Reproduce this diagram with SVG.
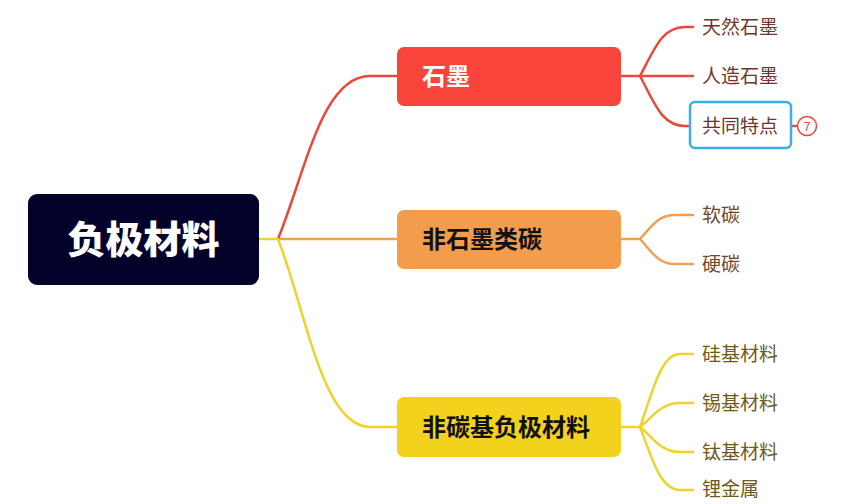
<svg xmlns="http://www.w3.org/2000/svg" width="865" height="504" viewBox="0 0 865 504">
<style>
.c{fill:none;stroke-width:2.5;stroke-linecap:round}
.r{stroke:#e8493b}.o{stroke:#f0a050}.y{stroke:#f0d22a}
.main{font-family:"Noto Sans CJK SC","Noto Sans",sans-serif;font-weight:bold;font-size:24px}
.leaf{font-family:"Noto Sans CJK SC","Noto Sans",sans-serif;font-size:19px}
</style>
<rect width="865" height="504" fill="#ffffff"/>
<g id="connectors">
<path class="c y" d="M259,239 L278,239"/>
<path class="c o" d="M278,239 L397,239"/>
<path class="c r" d="M278,239 C306,170 322,76 370,76 L397,76"/>
<path class="c y" d="M278,239 C306,310 322,427 370,427 L397,427"/>
<path class="c r" d="M621,76 L640,76 M640,76 C655,48 662,27 685,27 L693,27 M640,76 L693,76 M640,76 C655,104 662,126 685,126 L689,126"/>
<path class="c r" d="M791,126 L797,126"/>
<path class="c o" d="M621,239 L640,239 M640,239 C652,226 658,215 675,215 L693,215 M640,239 C652,252 658,264 675,264 L693,264"/>
<path class="c y" d="M621,427 L640,427 M640,427 C652,395 660,354 680,354 L693,354 M640,427 C652,418 660,403 680,403 L693,403 M640,427 C652,436 660,452 680,452 L693,452 M640,427 C652,458 660,490 680,490 L693,490"/>
</g>
<g id="root">
<rect x="28" y="194" width="231" height="91" rx="9" fill="#03022a"/>
<text x="143.5" y="253" text-anchor="middle" fill="#ffffff" font-family="'Noto Sans CJK SC','Noto Sans',sans-serif" font-weight="900" font-size="38">负极材料</text>
</g>
<g id="graphite">
<rect x="397" y="47" width="224" height="59" rx="7" fill="#f8443b"/>
<text class="main" x="422" y="85" fill="#ffffff">石墨</text>
</g>
<g id="nongraphite">
<rect x="397" y="210" width="224" height="59" rx="7" fill="#f39d4c"/>
<text class="main" x="422" y="248" fill="#111111">非石墨类碳</text>
</g>
<g id="noncarbon">
<rect x="397" y="397" width="224" height="60" rx="7" fill="#f2d21c"/>
<text class="main" x="422" y="436" fill="#111111">非碳基负极材料</text>
</g>
<g id="leaf1"><text class="leaf" x="702" y="34" fill="#6e3530">天然石墨</text></g>
<g id="leaf2"><text class="leaf" x="702" y="83" fill="#6e3530">人造石墨</text></g>
<g id="leaf3">
<rect x="690" y="102" width="101" height="46" rx="5" fill="#ffffff" stroke="#3bb0e6" stroke-width="2.5"/>
<text class="leaf" x="702" y="133" fill="#6e3530">共同特点</text>
</g>
<g id="badge">
<circle cx="807" cy="126" r="9.5" fill="#ffffff" stroke="#e8493b" stroke-width="1.5"/>
<text x="807" y="130.5" text-anchor="middle" fill="#e8493b" font-family="'Liberation Sans',sans-serif" font-size="12">7</text>
</g>
<g id="leaf4"><text class="leaf" x="702" y="222" fill="#6d4a2e">软碳</text></g>
<g id="leaf5"><text class="leaf" x="702" y="271" fill="#6d4a2e">硬碳</text></g>
<g id="leaf6"><text class="leaf" x="702" y="361" fill="#6b5a22">硅基材料</text></g>
<g id="leaf7"><text class="leaf" x="702" y="410" fill="#6b5a22">锡基材料</text></g>
<g id="leaf8"><text class="leaf" x="702" y="459" fill="#6b5a22">钛基材料</text></g>
<g id="leaf9"><text class="leaf" x="702" y="496" fill="#6b5a22">锂金属</text></g>
</svg>
